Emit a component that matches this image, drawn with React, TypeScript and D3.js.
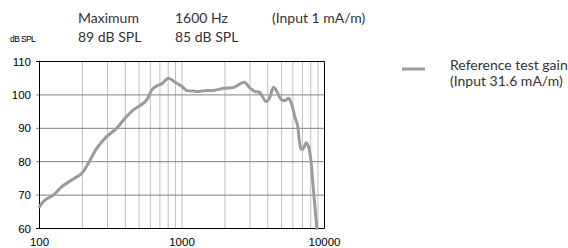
import React from 'react';
import * as d3 from 'd3';

// measured curve (Hz, dB SPL)
const freqs = [100, 109, 125, 143, 168, 198, 220, 252, 296, 348, 398, 456, 536, 566, 614, 665, 721, 803, 895, 1000, 1081, 1202, 1271, 1494, 1662, 1954, 2296, 2489, 2743, 3008, 3260, 3497, 3896, 4110, 4385, 4632, 4943, 5297, 5586, 5904, 6229, 6463, 6830, 7051, 7437, 7727, 8022, 8291, 8606, 8843];
const gains = [66.5, 68.5, 70, 72.5, 74.5, 76.5, 79.5, 84, 87.5, 90, 93, 95.5, 97.5, 98.5, 101.5, 102.7, 103.3, 105, 103.8, 102.5, 101.3, 101.2, 101, 101.3, 101.3, 102, 102.2, 103, 103.8, 102, 101, 100.8, 98, 99, 102.3, 101, 98.7, 98.3, 99, 97, 93, 91, 84, 83.7, 85.7, 84.5, 80.5, 73.5, 65.5, 60];

const yTicks = [60, 70, 80, 90, 100, 110];
const xLabels = [100, 1000, 10000];
const minorFreqs = [200, 300, 400, 500, 600, 700, 800, 900, 2000, 3000, 4000, 5000, 6000, 7000, 8000, 9000];

const headerRow1 = ['Maximum', '1600 Hz', '(Input 1 mA/m)'];
const headerRow2 = ['89 dB SPL', '85 dB SPL'];
const legendLines = ['Reference test gain', '(Input 31.6 mA/m)'];

const W = 568;
const H = 248;

export default function App() {
  const x = d3.scaleLog().domain([100, 10000]).range([39.5, 324.5]);
  const y = d3.scaleLinear().domain([60, 110]).range([228.5, 61.5]);

  const pts: [number, number][] = freqs.map((f, i) => [f, gains[i]]);
  const line = d3.line<[number, number]>()
    .x(d => x(d[0]))
    .y(d => y(d[1]))
    .curve(d3.curveCatmullRom.alpha(0.5));

  const hdrFont = 'Lato, "Open Sans", sans-serif';
  const tickFont = '"Liberation Sans", Arial, sans-serif';
  const colX = [78, 175, 272];

  return (
    <svg width={W} height={H} style={{ position: 'absolute', left: 0, top: 0 }}>
      <rect width={W} height={H} fill="#fff" />

      {/* header */}
      {headerRow1.map((t, i) => (
        <text key={'h1' + i} x={colX[i]} y={23} fontFamily={hdrFont} fontSize={14} fill="#333">{t}</text>
      ))}
      {headerRow2.map((t, i) => (
        <text key={'h2' + i} x={colX[i]} y={42} fontFamily={hdrFont} fontSize={14} fill="#333">{t}</text>
      ))}
      <text x={10} y={42} fontFamily={tickFont} fontSize={8.5} letterSpacing={-0.6} fill="#000">dB SPL</text>

      {/* minor vertical grid */}
      {minorFreqs.map(f => (
        <line key={'v' + f} x1={x(f)} x2={x(f)} y1={y(110)} y2={y(60)} stroke="#b0b0b0" strokeWidth={0.8} />
      ))}
      <line x1={x(1000)} x2={x(1000)} y1={y(110)} y2={y(60)} stroke="#b0b0b0" strokeWidth={0.8} />

      {/* horizontal grid + ticks */}
      {yTicks.map(v => (
        <g key={'y' + v}>
          <line x1={36} x2={x(10000)} y1={y(v)} y2={y(v)}
            stroke={v === 60 || v === 110 ? '#000' : '#808080'} strokeWidth={1} />
          <text x={31} y={y(v)} dy="0.36em" textAnchor="end" fontFamily={tickFont} fontSize={11.5} fill="#000">{v}</text>
        </g>
      ))}

      {/* frame */}
      <line x1={x(100)} x2={x(100)} y1={y(110)} y2={y(60)} stroke="#000" strokeWidth={1} />
      <line x1={x(10000)} x2={x(10000)} y1={y(110)} y2={y(60)} stroke="#000" strokeWidth={1} />

      {xLabels.map(f => (
        <text key={'x' + f} x={x(f)} y={246} textAnchor="middle" fontFamily={tickFont} fontSize={11.5} fill="#000">{f}</text>
      ))}

      {/* curve */}
      <path d={line(pts) || ''} fill="none" stroke="#9b9b9b" strokeWidth={3} strokeLinejoin="round" strokeLinecap="round" />

      {/* legend */}
      <line x1={402} x2={425} y1={69} y2={69} stroke="#9b9b9b" strokeWidth={3} />
      {legendLines.map((t, i) => (
        <text key={'l' + i} x={450} y={70 + i * 16} fontFamily={hdrFont} fontSize={14} fill="#333">{t}</text>
      ))}
    </svg>
  );
}
